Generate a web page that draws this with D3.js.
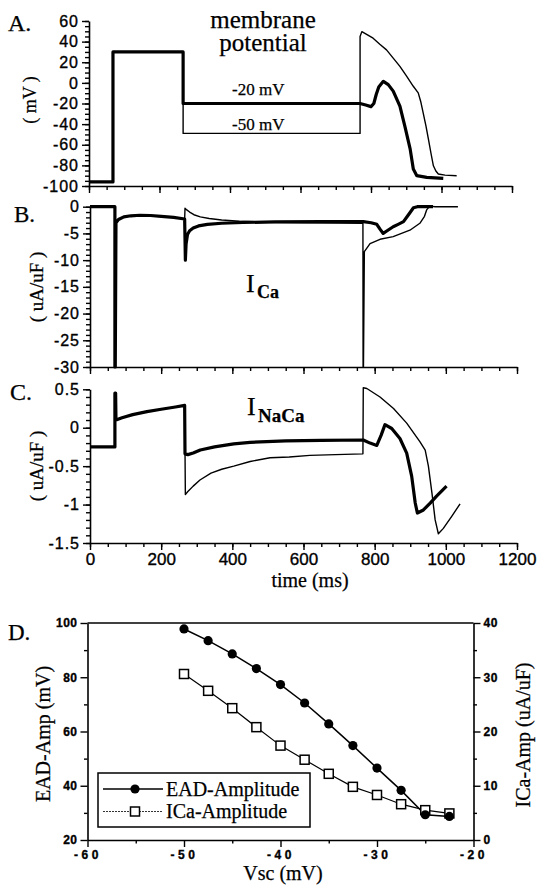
<!DOCTYPE html>
<html>
<head>
<meta charset="utf-8">
<script src="https://cdn.jsdelivr.net/npm/d3@7"></script>
<style>
  body { margin: 0; background: #fff; }
  svg { display: block; }
  .serif { font-family: "Liberation Serif", "Times New Roman", serif; fill: #000; stroke: #000; stroke-width: 0.25px; }
  .tick text { font-family: "Liberation Sans", Arial, sans-serif; fill: #000; stroke: #000; stroke-width: 0.35px; }
</style>
</head>
<body>
<svg id="fig" width="537" height="892"></svg>
<script>
// ---- shared time axis (ms) ----
const timeTicks = [0, 200, 400, 600, 800, 1000, 1200];
const timeMinor = d3.range(0, 1201, 50);

// ---- A. membrane potential (mV) ----
const vmTicks = [60, 40, 20, 0, -20, -40, -60, -80, -100];
const vmTime20 = [0, 68, 68, 267, 267, 769, 785, 800, 808, 815, 822, 835, 849, 863, 882, 896, 911, 920, 930, 958, 1005];
const vm20     = [-96, -96, 30, 30, -20, -20, -21.5, -23, -20, -11, -4, 1.5, -1.7, -8, -22.6, -42, -64, -83.6, -90, -91.6, -92.6];
const vmTime50 = [0, 68, 68, 267, 267, 769, 769, 774, 790, 806, 825, 844, 863, 882, 900, 920, 934, 941, 948, 956, 963, 970, 977, 984, 991, 1010, 1043];
const vm50     = [-96, -96, 30, 30, -49, -49, 45, 49.7, 46.5, 43.3, 37.5, 32, 24, 16, 7, -3.3, -9.7, -18, -29, -42, -54.7, -68, -80.4, -85.5, -88.4, -89.5, -90];

// ---- B. I_Ca (uA/uF) ----
const icaTicks = [0, -5, -10, -15, -20, -25, -30];
const icaTime20 = [0, 70, 70, 71, 73, 80, 95, 115, 140, 170, 200, 235, 266, 267, 268, 270, 274, 280, 290, 305, 330, 370, 430, 520, 650, 768, 790, 806, 815, 824, 835, 852, 866, 881, 895, 909, 920, 964];
const ica20     = [0, 0, -30, -30, -3, -2.4, -1.9, -1.7, -1.6, -1.65, -1.8, -2.0, -2.3, -6, -10, -7, -5.2, -4.5, -4.0, -3.6, -3.3, -3.1, -2.95, -2.85, -2.8, -2.8, -3.0, -3.3, -4.2, -5.0, -4.5, -3.75, -3.3, -2.8, -1.5, -0.2, 0, 0];
const icaTime50 = [0, 70, 70, 71, 73, 80, 95, 115, 140, 170, 200, 235, 266, 267, 272, 280, 292, 310, 335, 370, 420, 500, 600, 700, 767, 767.5, 768.5, 771, 787, 815, 852, 899, 927, 940, 946, 955, 970, 1034];
const ica50     = [0, 0, -30, -30, -3, -2.4, -1.9, -1.7, -1.6, -1.65, -1.8, -2.0, -2.3, -0.3, -0.6, -1.0, -1.5, -1.9, -2.2, -2.5, -2.7, -2.9, -3.0, -3.05, -3.1, -30, -30, -8.4, -6.9, -6.1, -5.6, -4.4, -3.1, -1.8, -0.6, 0.1, 0, 0];

// ---- C. I_NaCa (uA/uF) ----
const incxTicks = [0.5, 0, -0.5, -1, -1.5];
const incxTime20 = [0, 70, 70, 72, 73, 90, 120, 160, 200, 240, 266, 267, 275, 290, 310, 350, 404, 450, 550, 650, 768, 787, 806, 818, 829, 848, 871, 890, 904, 914, 920, 937, 956, 974, 1002];
const incx20     = [-0.25, -0.25, 0.45, 0.45, 0.1, 0.13, 0.17, 0.21, 0.24, 0.27, 0.29, -0.34, -0.35, -0.33, -0.29, -0.25, -0.21, -0.19, -0.17, -0.165, -0.16, -0.2, -0.23, -0.1, 0.04, -0.01, -0.14, -0.33, -0.63, -0.98, -1.11, -1.07, -0.98, -0.89, -0.76];
const incxTime50 = [0, 70, 70, 72, 73, 90, 120, 160, 200, 240, 266, 268, 275, 290, 309, 340, 370, 404, 450, 506, 560, 618, 690, 767, 768, 778, 815, 853, 890, 927, 942, 951, 961, 970, 979, 993, 1017, 1040];
const incx50     = [-0.25, -0.25, 0.45, 0.45, 0.1, 0.13, 0.17, 0.21, 0.24, 0.27, 0.29, -0.87, -0.83, -0.76, -0.68, -0.59, -0.54, -0.5, -0.44, -0.39, -0.38, -0.36, -0.35, -0.34, 0.52, 0.51, 0.40, 0.25, 0.06, -0.18, -0.29, -0.5, -0.85, -1.2, -1.38, -1.31, -1.15, -0.99];

// ---- D. amplitudes vs. step potential ----
const vscTicks = [-60, -50, -40, -30, -20];
const eadTicks = [20, 40, 60, 80, 100];
const icaAmpTicks = [0, 10, 20, 30, 40];
const vscSteps = [-50, -47.5, -45, -42.5, -40, -37.5, -35, -32.5, -30, -27.5, -25, -22.5];
const eadAmp   = [97.8, 93.5, 88.6, 83.2, 77.3, 70.5, 62.8, 54.8, 46.5, 38.3, 29.3, 28.7];
const icaAmp   = [30.6, 27.5, 24.3, 20.8, 17.4, 14.8, 12.2, 9.8, 8.3, 6.6, 5.5, 4.9];

const svg = d3.select("#fig");
const hy = v => String(v);   // plain hyphen minus signs

function styleAxis(g) {
  g.selectAll("path.domain").attr("stroke", "#000").attr("stroke-width", 1.6);
  g.selectAll(".tick line").attr("stroke", "#000").attr("stroke-width", 1.4);
  return g;
}

function leftAxis(scale, x, major, minor, fontSize, spacing) {
  const gMin = svg.append("g").attr("transform", `translate(${x},0)`)
    .call(d3.axisLeft(scale).tickValues(minor).tickSize(4).tickFormat(""));
  styleAxis(gMin).select("path.domain").remove();
  const g = svg.append("g").attr("transform", `translate(${x},0)`)
    .call(d3.axisLeft(scale).tickValues(major).tickSize(7).tickSizeOuter(0).tickPadding(3).tickFormat(hy));
  styleAxis(g).selectAll(".tick text")
    .style("font-size", fontSize + "px").style("letter-spacing", spacing + "px");
  return g;
}

function bottomAxis(scale, y, major, minor, labels, fontSize, spacing) {
  const gMin = svg.append("g").attr("transform", `translate(0,${y})`)
    .call(d3.axisBottom(scale).tickValues(minor).tickSize(4).tickFormat(""));
  styleAxis(gMin).select("path.domain").remove();
  const g = svg.append("g").attr("transform", `translate(0,${y})`)
    .call(d3.axisBottom(scale).tickValues(major).tickSize(7).tickSizeOuter(0).tickPadding(3)
      .tickFormat(labels ? hy : ""));
  styleAxis(g).selectAll(".tick text")
    .style("font-size", fontSize + "px").style("letter-spacing", spacing + "px");
  return g;
}

function trace(xs, ys, times, vals, width) {
  svg.append("path")
    .datum(d3.zip(times, vals))
    .attr("fill", "none").attr("stroke", "#000")
    .attr("stroke-width", width)
    .attr("stroke-linejoin", "round").attr("stroke-linecap", "butt")
    .attr("d", d3.line().x(d => xs(d[0])).y(d => ys(d[1])));
}

function text(x, y, str, size, opts = {}) {
  return svg.append("text").attr("class", "serif")
    .attr("x", x).attr("y", y)
    .style("font-size", size + "px")
    .attr("text-anchor", opts.anchor || "start")
    .style("font-weight", opts.bold ? "bold" : "normal")
    .text(str);
}

function vlabel(cx, cy, str, size) {
  svg.append("text").attr("class", "serif")
    .attr("transform", `translate(${cx},${cy}) rotate(-90)`)
    .attr("text-anchor", "middle").attr("dominant-baseline", "central")
    .style("font-size", size + "px").text(str);
}

// ================= Panel A =================
const xA = d3.scaleLinear().domain([0, 1200]).range([89, 512]);
const yA = d3.scaleLinear().domain([-100, 60]).range([186, 21]);
trace(xA, yA, vmTime50, vm50, 1.4);
trace(xA, yA, vmTime20, vm20, 3.2);
leftAxis(yA, 89, vmTicks, d3.range(-100, 61, 5), 16, 1);
bottomAxis(xA, 186, timeTicks, timeMinor, false);
text(8, 31, "A.", 24);
vlabel(30, 100, "( mV )", 18);
text(263, 28, "membrane", 25, { anchor: "middle" });
text(263, 51, "potential", 25, { anchor: "middle" });
text(232, 95, "-20 mV", 17);
text(232, 130, "-50 mV", 17);

// ================= Panel B =================
const xB = d3.scaleLinear().domain([0, 1200]).range([90, 517]);
const yB = d3.scaleLinear().domain([-30, 0]).range([367, 206.7]);
trace(xB, yB, icaTime50, ica50, 1.4);
trace(xB, yB, icaTime20, ica20, 3.2);
leftAxis(yB, 90, icaTicks, d3.range(-30, 1, 1), 16, 1);
bottomAxis(xB, 367, timeTicks, timeMinor, false);
text(14, 222, "B.", 23);
vlabel(36, 287, "( uA/uF )", 19);
text(246, 292, "I", 26);
text(257, 298, "Ca", 18, { bold: true });

// ================= Panel C =================
const xC = d3.scaleLinear().domain([0, 1200]).range([90, 517]);
const yC = d3.scaleLinear().domain([-1.5, 0.5]).range([543, 389.3]);
trace(xC, yC, incxTime50, incx50, 1.4);
trace(xC, yC, incxTime20, incx20, 3.2);
leftAxis(yC, 90, incxTicks, d3.range(-15, 6, 1).map(v => v / 10), 16, 1);
bottomAxis(xC, 543, timeTicks, timeMinor, true, 17, 0);
text(10, 400, "C.", 24);
vlabel(36, 466, "( uA/uF )", 19);
text(247, 415, "I", 26);
text(258, 422, "NaCa", 19, { bold: true });
text(310, 587, "time (ms)", 20, { anchor: "middle" });

// ================= Panel D =================
const xD = d3.scaleLinear().domain([-60, -20]).range([87.5, 473.5]);
const yL = d3.scaleLinear().domain([20, 100]).range([840, 623]);
const yR = d3.scaleLinear().domain([0, 40]).range([840, 623]);

// frame top
svg.append("line").attr("x1", xD(-60)).attr("x2", xD(-20)).attr("y1", yL(100)).attr("y2", yL(100))
  .attr("stroke", "#000").attr("stroke-width", 1.6);

function dAxis(make, transform, major, minor, size, spacing) {
  const gMin = svg.append("g").attr("transform", transform)
    .call(make().tickValues(minor).tickSize(3.5).tickFormat(""));
  styleAxis(gMin).select("path.domain").remove();
  const g = svg.append("g").attr("transform", transform)
    .call(make().tickValues(major).tickSize(7).tickSizeOuter(0).tickPadding(3).tickFormat(hy));
  styleAxis(g).selectAll(".tick text")
    .style("font-size", size + "px").style("font-weight", "bold").style("letter-spacing", spacing + "px");
}
dAxis(() => d3.axisLeft(yL), `translate(${xD(-60)},0)`, eadTicks, [30, 50, 70, 90], 12, 0.5);
dAxis(() => d3.axisRight(yR), `translate(${xD(-20)},0)`, icaAmpTicks, [5, 15, 25, 35], 12, 0.5);
dAxis(() => d3.axisBottom(xD), `translate(0,${yL(20)})`, vscTicks, [-55, -45, -35, -25], 12, 3.5);

// series lines
svg.append("path").datum(d3.zip(vscSteps, icaAmp))
  .attr("fill", "none").attr("stroke", "#000").attr("stroke-width", 1.2)
  .attr("d", d3.line().x(d => xD(d[0])).y(d => yR(d[1])));
svg.append("path").datum(d3.zip(vscSteps, eadAmp))
  .attr("fill", "none").attr("stroke", "#000").attr("stroke-width", 1.5)
  .attr("d", d3.line().x(d => xD(d[0])).y(d => yL(d[1])));

// markers
const sq = 9;
svg.append("g").selectAll("rect").data(d3.zip(vscSteps, icaAmp)).join("rect")
  .attr("x", d => xD(d[0]) - sq / 2).attr("y", d => yR(d[1]) - sq / 2)
  .attr("width", sq).attr("height", sq)
  .attr("fill", "#fff").attr("stroke", "#000").attr("stroke-width", 1.5);
svg.append("g").selectAll("circle").data(d3.zip(vscSteps, eadAmp)).join("circle")
  .attr("cx", d => xD(d[0])).attr("cy", d => yL(d[1])).attr("r", 4.6).attr("fill", "#000");

// legend
const lg = svg.append("g");
lg.append("rect").attr("x", 98).attr("y", 773).attr("width", 212).attr("height", 54)
  .attr("fill", "#fff").attr("stroke", "#000").attr("stroke-width", 1.5);
lg.append("line").attr("x1", 103).attr("x2", 163).attr("y1", 789).attr("y2", 789)
  .attr("stroke", "#000").attr("stroke-width", 1.5);
lg.append("circle").attr("cx", 135).attr("cy", 789).attr("r", 4.6).attr("fill", "#000");
lg.append("line").attr("x1", 103).attr("x2", 163).attr("y1", 811.5).attr("y2", 811.5)
  .attr("stroke", "#333").attr("stroke-width", 1).attr("stroke-dasharray", "2,1");
lg.append("rect").attr("x", 135 - sq / 2).attr("y", 811.5 - sq / 2).attr("width", sq).attr("height", sq)
  .attr("fill", "#fff").attr("stroke", "#000").attr("stroke-width", 1.5);
text(166, 796, "EAD-Amplitude", 20);
text(166, 818, "ICa-Amplitude", 20);

text(8, 640, "D.", 23);
vlabel(43, 734, "EAD-Amp (mV)", 20);
vlabel(523, 735, "ICa-Amp (uA/uF)", 20);
text(283, 880, "Vsc (mV)", 20, { anchor: "middle" });
</script>
</body>
</html>
